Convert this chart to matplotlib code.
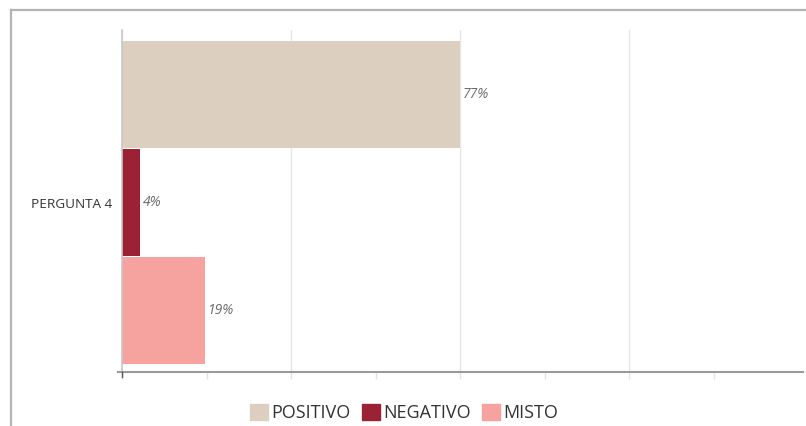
import matplotlib
matplotlib.use("Agg")
import matplotlib.pyplot as plt
from matplotlib.patches import Patch
from matplotlib.lines import Line2D
import numpy as np

plt.rcParams['font.family'] = ['Open Sans', 'DejaVu Sans']

# data
category = "PERGUNTA 4"
series = ["POSITIVO", "NEGATIVO", "MISTO"]
values = [77, 4, 19]
labels = ["77%", "4%", "19%"]
colors = ["#ddcfbf", "#9b2235", "#f6a29f"]

fig = plt.figure(figsize=(8.06, 4.26), dpi=100)
ax = fig.add_axes([122 / 806, 1 - 372 / 426, (803 - 122) / 806, 342 / 426])

# one group, three bars stacked top to bottom
offsets = np.arange(len(values)) - 1
ax.barh(offsets, values, height=0.99, color=colors, zorder=2)

for y, v, lab in zip(offsets, values, labels):
    ax.annotate(lab, (v, y), xytext=(2.2, 0), textcoords="offset points",
                va="center", ha="left", fontsize=10, style="italic", color="#6a6a6a")

ax.set_xlim(0, 155.1)
ax.set_ylim(1.565, -1.6)

ax.set_xticks([0, 38.5, 77, 115.5])
ax.set_xticks([19.25, 57.75, 96.25, 134.75], minor=True)
ax.set_xticklabels([])
ax.tick_params(axis="x", which="major", length=5, color="#e3e3e3", width=1)
ax.tick_params(axis="x", which="minor", length=5, color="#e3e3e3", width=1)
ax.xaxis.grid(True, which="major", color="#e6e6e6", linewidth=1, zorder=0)

ax.set_yticks([0])
ax.set_yticklabels([category], fontsize=9.7, color="#333333")
ax.tick_params(axis="y", length=0, pad=7)

for s in ["top", "right"]:
    ax.spines[s].set_visible(False)
ax.spines["left"].set_color("#c8c8c8")
ax.spines["left"].set_linewidth(1.2)
ax.spines["bottom"].set_color("#9a9a9a")
ax.spines["bottom"].set_linewidth(1.5)
ax.spines["bottom"].set_bounds(-1.0, 155.1)
ax.spines["bottom"].set_zorder(3)

# dark tick at the origin
ax.plot([0, 0], [1.565, 1.61], color="#555555", lw=1, clip_on=False, zorder=4)

# outer frame around the chart
fig.add_artist(Line2D([11 / 806, 11 / 806], [0, 1 - 10 / 426], color="#b4b4b4", lw=1.6))
fig.add_artist(Line2D([11 / 806, 1], [1 - 10 / 426, 1 - 10 / 426], color="#b4b4b4", lw=1.6))

handles = [Patch(facecolor=c, edgecolor=c) for c in colors]
fig.legend(handles, series, loc="center", bbox_to_anchor=(404 / 806, 1 - 413 / 426),
           ncol=3, frameon=False, fontsize=13, handlelength=1.0, handleheight=1.0,
           handletextpad=0.2, columnspacing=0.6, borderpad=0, labelcolor="#333333")

fig.savefig("out.png", dpi=100)
